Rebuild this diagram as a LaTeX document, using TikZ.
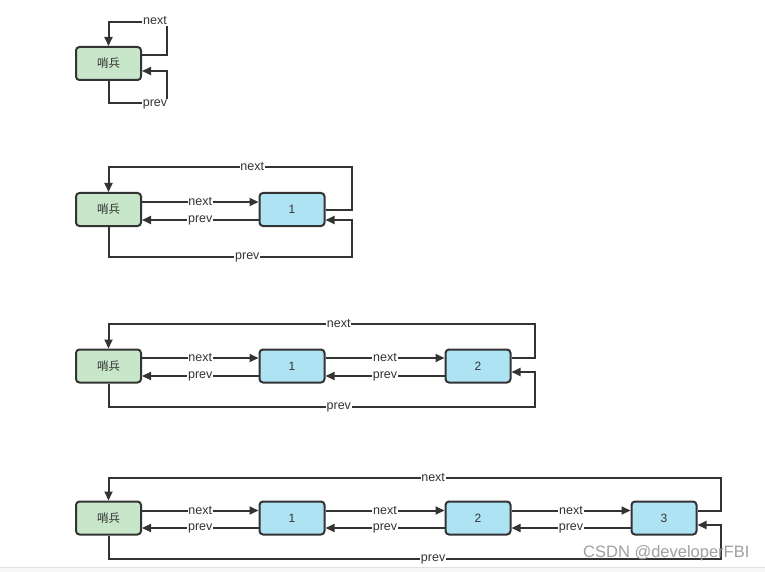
\documentclass[tikz,border=0pt]{standalone}
\usepackage{fontspec}
\setmainfont{Liberation Sans}
\newfontfamily\cjk{Noto Sans CJK SC}
\usetikzlibrary{arrows.meta}
\definecolor{ln}{HTML}{333333}
\definecolor{gfill}{HTML}{C8E6CA}
\definecolor{bfill}{HTML}{ADE3F3}
\definecolor{wm}{HTML}{A0A0A0}
\tikzset{
  sent/.style={draw=ln, line width=2pt, fill=gfill, rounded corners=3.5pt, minimum width=65pt, minimum height=33pt, inner sep=0pt, font=\cjk\fontsize{11.5}{12}\selectfont, text=ln},
  nd/.style={draw=ln, line width=2pt, fill=bfill, rounded corners=3.5pt, minimum width=65pt, minimum height=33pt, inner sep=0pt, font=\fontsize{12}{13}\selectfont, text=ln},
  lk/.style={draw=ln, line width=2pt, -{Triangle[length=9pt,width=8pt]}},
  lbl/.style={fill=white, inner sep=0.8pt, font=\fontsize{12.5}{14}\selectfont, text=ln}
}
\begin{document}
\begin{tikzpicture}[x=1pt,y=-1pt]
\useasboundingbox[fill=white] (0,0) rectangle (765,572);
\fill[color={rgb,255:red,246;green,246;blue,246}] (0,567) rectangle (765,572);
\draw[color={rgb,255:red,225;green,225;blue,225}, line width=1pt] (0,567) -- (765,567);

% ---------- diagram 1 ----------
\node[sent] (s1) at (108.5,63.5) {哨兵};
\coordinate (d1tr) at (167,22);
\coordinate (d1br) at (167,103);
\draw[lk] ([yshift=8.5pt]s1.east) -| (d1tr) -- (s1.north |- d1tr) -- (s1.north);
\draw[lk] (s1.south) -- (s1.south |- d1br) -| ([yshift=-7.5pt]s1.east -| d1br) -- ([yshift=-7.5pt]s1.east);
\node[lbl] at (155,21) {next};
\node[lbl] at (155,104) {prev};

% ---------- diagram 2 ----------
\node[sent] (s2) at (108.5,209.5) {哨兵};
\node[nd] (a21) at (292,209.5) {1};
\coordinate (d2t) at (352,167);
\coordinate (d2b) at (352,257);
\draw[lk] ([yshift=7.5pt]s2.east) -- node[lbl]{next} ([yshift=7.5pt]a21.west);
\draw[lk] ([yshift=-10.5pt]a21.west) -- node[lbl]{prev} ([yshift=-10.5pt]s2.east);
\draw[lk] (a21.east) -| (d2t) -- node[lbl,pos=0.41]{next} (s2.north |- d2t) -- (s2.north);
\draw[lk] (s2.south) -- (s2.south |- d2b) -- node[lbl,pos=0.57]{prev} (d2b) -- ([yshift=-10.5pt]a21.east -| d2b) -- ([yshift=-10.5pt]a21.east);

% ---------- diagram 3 ----------
\node[sent] (s3) at (108.5,366) {哨兵};
\node[nd] (a31) at (292,366) {1};
\node[nd] (a32) at (478,366) {2};
\coordinate (d3t) at (535,324);
\coordinate (d3b) at (535,407);
\draw[lk] ([yshift=8pt]s3.east) -- node[lbl]{next} ([yshift=8pt]a31.west);
\draw[lk] ([yshift=-10pt]a31.west) -- node[lbl]{prev} ([yshift=-10pt]s3.east);
\draw[lk] ([yshift=8pt]a31.east) -- node[lbl]{next} ([yshift=8pt]a32.west);
\draw[lk] ([yshift=-10pt]a32.west) -- node[lbl]{prev} ([yshift=-10pt]a31.east);
\draw[lk] ([yshift=8pt]a32.east) -| (d3t) -- node[lbl,pos=0.46]{next} (s3.north |- d3t) -- (s3.north);
\draw[lk] (s3.south) -- (s3.south |- d3b) -- node[lbl,pos=0.54]{prev} (d3b) -- ([yshift=-6pt]a32.east -| d3b) -- ([yshift=-6pt]a32.east);

% ---------- diagram 4 ----------
\node[sent] (s4) at (108.5,518) {哨兵};
\node[nd] (a41) at (292,518) {1};
\node[nd] (a42) at (478,518) {2};
\node[nd] (a43) at (664,518) {3};
\coordinate (d4t) at (721,478);
\coordinate (d4b) at (721,559);
\draw[lk] ([yshift=7.5pt]s4.east) -- node[lbl]{next} ([yshift=7.5pt]a41.west);
\draw[lk] ([yshift=-10pt]a41.west) -- node[lbl]{prev} ([yshift=-10pt]s4.east);
\draw[lk] ([yshift=7.5pt]a41.east) -- node[lbl]{next} ([yshift=7.5pt]a42.west);
\draw[lk] ([yshift=-10pt]a42.west) -- node[lbl]{prev} ([yshift=-10pt]a41.east);
\draw[lk] ([yshift=7.5pt]a42.east) -- node[lbl]{next} ([yshift=7.5pt]a43.west);
\draw[lk] ([yshift=-10pt]a43.west) -- node[lbl]{prev} ([yshift=-10pt]a42.east);
\draw[lk] ([yshift=7.5pt]a43.east) -| (d4t) -- node[lbl,pos=0.47]{next} (s4.north |- d4t) -- (s4.north);
\draw[lk] (s4.south) -- (s4.south |- d4b) -- node[lbl,pos=0.53]{prev} (d4b) -- ([yshift=-7pt]a43.east -| d4b) -- ([yshift=-7pt]a43.east);

% watermark
\node[text=wm, font=\fontsize{16.5}{18}\selectfont, inner sep=0pt, anchor=west] (wmk) at (583,553) {CSDN @developerFBI};
\end{tikzpicture}
\end{document}
